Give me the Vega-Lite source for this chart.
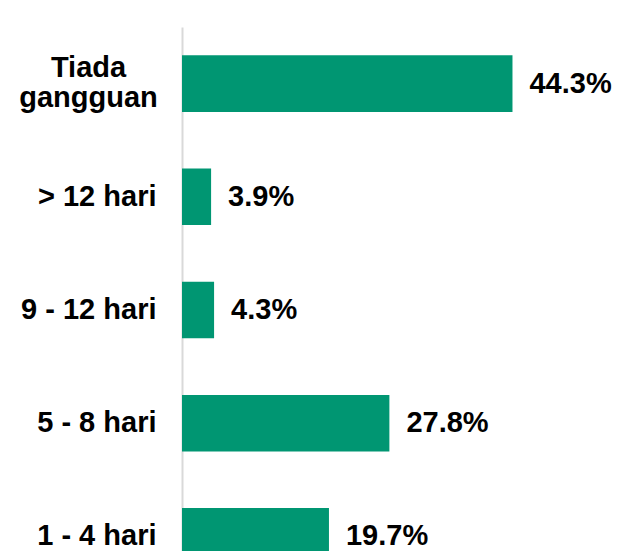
{
  "$schema": "https://vega.github.io/schema/vega-lite/v6.json",
  "width": 373,
  "height": 524,
  "autosize": {"type": "none"},
  "padding": {"left": 182, "top": 27, "right": 76, "bottom": 0},
  "config": {"view": {"stroke": null}, "font": "Liberation Sans"},
  "data": {"values": [
    {"cat": "Tiada gangguan", "pct": 44.3, "label": "44.3%"},
    {"cat": "> 12 hari", "pct": 3.9, "label": "3.9%"},
    {"cat": "9 - 12 hari", "pct": 4.3, "label": "4.3%"},
    {"cat": "5 - 8 hari", "pct": 27.8, "label": "27.8%"},
    {"cat": "1 - 4 hari", "pct": 19.7, "label": "19.7%"}
  ]},
  "encoding": {
    "y": {
      "field": "cat", "type": "nominal", "sort": null, "title": null,
      "scale": {"range": [0, 566], "paddingInner": 0.5, "paddingOuter": 0.25},
      "axis": {
        "ticks": false, "tickSize": 0,
        "labelPadding": {"condition": {"test": "datum.value === 'Tiada gangguan'", "value": 94}, "value": 26},
        "domainColor": "#d9d9d9", "domainWidth": 2,
        "labelFont": "Liberation Sans", "labelFontWeight": "bold", "labelFontSize": 29,
        "labelColor": "#000000", "labelLineHeight": 30, "labelLimit": 300,
        "labelAlign": {"condition": {"test": "datum.value === 'Tiada gangguan'", "value": "center"}, "value": "right"},
        "labelExpr": "datum.value === 'Tiada gangguan' ? ['Tiada', 'gangguan'] : datum.label",
        "labelBaseline": {"condition": {"test": "datum.value === 'Tiada gangguan'", "value": "line-bottom"}, "value": "middle"}
      }
    },
    "x": {
      "field": "pct", "type": "quantitative",
      "scale": {"domain": [0, 50]}, "axis": null
    }
  },
  "layer": [
    {"mark": {"type": "bar", "color": "#009672"}},
    {"mark": {"type": "text", "align": "left", "baseline": "middle", "dx": 17,
              "font": "Liberation Sans", "fontWeight": "bold", "fontSize": 29, "color": "#000000"},
     "encoding": {"text": {"field": "label"}}}
  ]
}
